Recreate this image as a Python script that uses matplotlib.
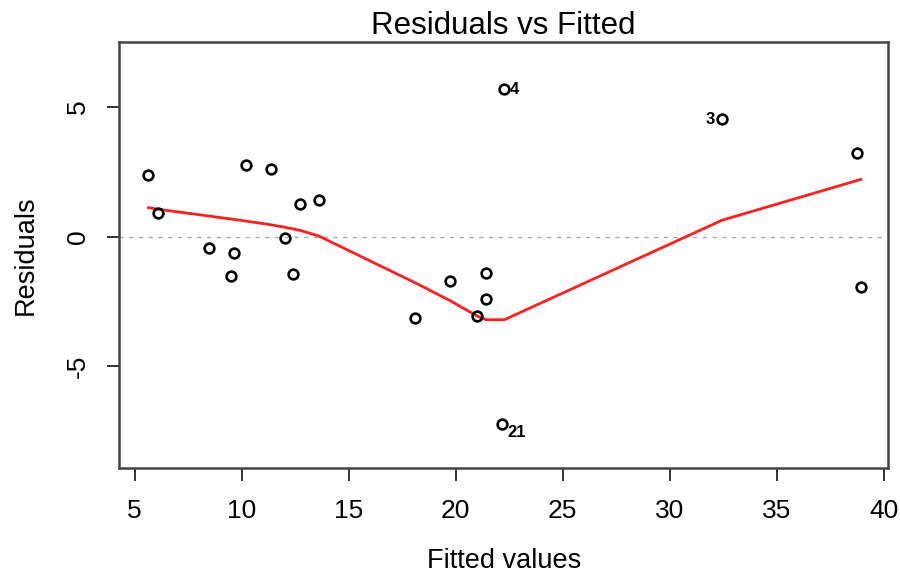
import numpy as np
import matplotlib
matplotlib.use("Agg")
import matplotlib.pyplot as plt

plt.rcParams['font.family'] = ['Liberation Sans', 'DejaVu Sans']

# fitted values and residuals
fitted = [5.65, 6.09, 8.46, 9.52, 9.63, 10.22, 11.38, 12.05, 12.41, 12.75, 13.60,
          18.12, 19.73, 21.01, 21.40, 21.43, 22.18, 22.28, 32.46, 38.77, 38.93]
resid = [2.37, 0.90, -0.45, -1.51, -0.61, 2.78, 2.63, -0.04, -1.43, 1.28, 1.41,
         -3.15, -1.70, -3.04, -1.38, -2.40, -7.22, 5.71, 4.55, 3.23, -1.93]
# smoother (red line), one value per sorted fitted value
smooth = [1.12, 1.06, 0.80, 0.68, 0.67, 0.60, 0.46, 0.36, 0.30, 0.24, 0.03,
          -1.78, -2.46, -3.06, -3.19, -3.20, -3.20, -3.20, 0.64, 2.17, 2.21]

# labelled observations: (index in arrays, label)
outlier_idx = [17, 16, 18]
outlier_lab = ["4", "21", "3"]

xticks = [5, 10, 15, 20, 25, 30, 35, 40]
yticks = [-5, 0, 5]

fig = plt.figure(figsize=(9, 5.78), dpi=100)
ax = fig.add_axes([0.1326, 0.1898, 0.854, 0.7367])

ax.axhline(0, color='#aaaaaa', lw=1, ls=(0, (3, 4)), zorder=1)
ax.plot(fitted, resid, 'o', mfc='none', mec='black', mew=1.9, ms=7, zorder=3)
ax.plot(fitted, smooth, color='#ff2020', lw=2, zorder=2)

# R style labels of the three largest residuals
offs = {"4": (4, -0.5, 'left'), "21": (4, -6, 'left'), "3": (-5, -0.5, 'right')}
for i, lab in zip(outlier_idx, outlier_lab):
    dx, dy, ha = offs[lab]
    ax.annotate(lab, (fitted[i], resid[i]), xytext=(dx, dy), textcoords='offset points',
                ha=ha, va='center', fontsize=12, fontweight='bold')

ax.set_xlim(4.29, 40.2)
ax.set_ylim(-8.93, 7.49)
ax.set_xticks(xticks)
ax.set_yticks(yticks)
ax.set_yticklabels([str(t) for t in yticks], rotation=90, va='center')
ax.tick_params(direction='out', length=9, width=1.4, color='#333333',
               labelsize=19, pad=13)
ax.tick_params(axis='y', pad=12)
for s in ax.spines.values():
    s.set_color('#444444')
    s.set_linewidth(1.8)

ax.set_title("Residuals vs Fitted", fontsize=22.5, pad=6)
ax.set_xlabel("Fitted values", fontsize=19.5, labelpad=18)
ax.set_ylabel("Residuals", fontsize=19.5, labelpad=20)

fig.savefig("out.png", dpi=100)
